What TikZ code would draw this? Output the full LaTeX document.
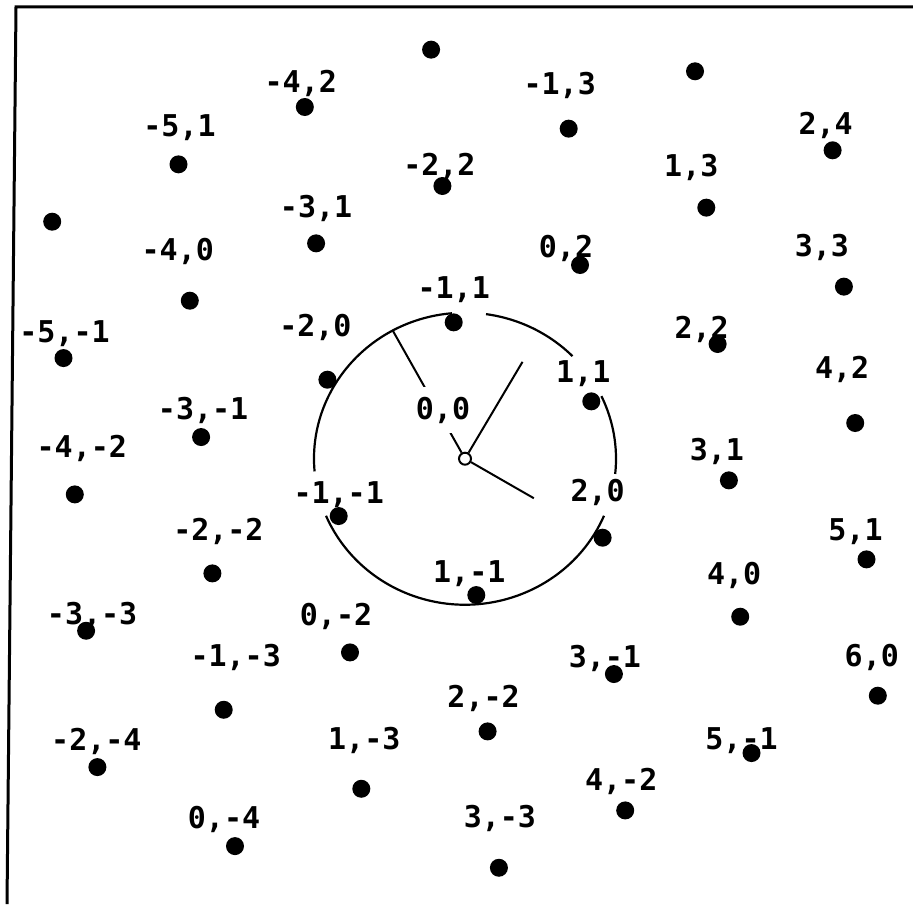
\documentclass[tikz,border=0pt]{standalone}
\usepackage{fontspec}
\newfontfamily\lblfont{DejaVu Sans Mono}
\usetikzlibrary{calc}
\begin{document}
\begin{tikzpicture}[x=0.5pt,y=-0.5pt,
  dot/.style={circle,fill,inner sep=0pt,minimum size=9pt},
  lbl/.style={font=\lblfont\bfseries\fontsize{15}{15}\selectfont,inner sep=0pt},
  ring/.style={line width=1.1pt},
  hand/.style={line width=1pt}]
  \useasboundingbox (0,0) rectangle (913,904);
  \draw[line width=1.5pt] (7,904) -- (16,7) -- (913,7);
  \coordinate (C) at (465,458.7);
  \foreach \a/\b in {-82/-44.6,-25.4/6,23/157,-185/-95}
    \draw[ring] ([shift={(\a:151 and 146)}]C) arc[start angle=\a,end angle=\b,x radius=151,y radius=146];
  \node[circle,draw,line width=1pt,inner sep=0pt,minimum size=6pt] (o) at (C) {};
  \coordinate (e1) at (533.8,498.2);
  \coordinate (e2) at (522.5,361.85);
  \coordinate (r) at ([shift={(-118.6:151 and 146)}]C);
  \draw[hand] (o) -- (e1);
  \draw[hand] (o) -- (e2);
  \draw[hand] (o) -- (r);
  \node[lbl,fill=white,inner xsep=1pt,inner ysep=5pt] (l00) at (443,410) {0,0};
  \foreach \i/\j/\dx/\dy in {-4/2/-4/-24,-1/3/-9/-43,2/4/-7/-25,6/0/-6/-38,-4/0/-12/-49,
      -5/-1/1/-24,0/-4/-11/-27,3/-3/1/-49,2/-2/-4/-33,1/1/-8/-28,2/0/-5/-45,
      -1/-1/0/-21,1/-1/-7/-21,-2/0/-12/-52,-1/1/0/-33,-5/1/1/-37,-2/2/-3/-20,
      1/3/-15/-40,-3/1/0/-35,0/2/-14/-17,3/3/-22/-39,2/2/-16/-15,4/2/-13/-54,
      -3/-1/2/-27,-4/-2/7/-46,3/1/-12/-29,5/1/-11/-28,-2/-2/6/-42,4/0/-6/-41,
      -3/-3/6/-15,0/-2/-14/-36,3/-1/-9/-16,-1/-3/12/-52,-2/-4/-1/-26,1/-3/3/-48,
      5/-1/-10/-12,4/-2/-4/-29}
  {
    \pgfmathsetmacro\px{465+68.8*\i+57.5*\j}
    \pgfmathsetmacro\py{458.7+39.5*\i-96.85*\j}
    \node[dot] (p\i\j) at (\px,\py) {};
    \node[lbl] (l\i\j) at ($(p\i\j)+(\dx,\dy)$) {\i,\j};
  }
  \foreach \i/\j in {-3/3,0/4,-6/0}
  {
    \pgfmathsetmacro\px{465+68.8*\i+57.5*\j}
    \pgfmathsetmacro\py{458.7+39.5*\i-96.85*\j}
    \node[dot] (p\i\j) at (\px,\py) {};
  }
\end{tikzpicture}
\end{document}
